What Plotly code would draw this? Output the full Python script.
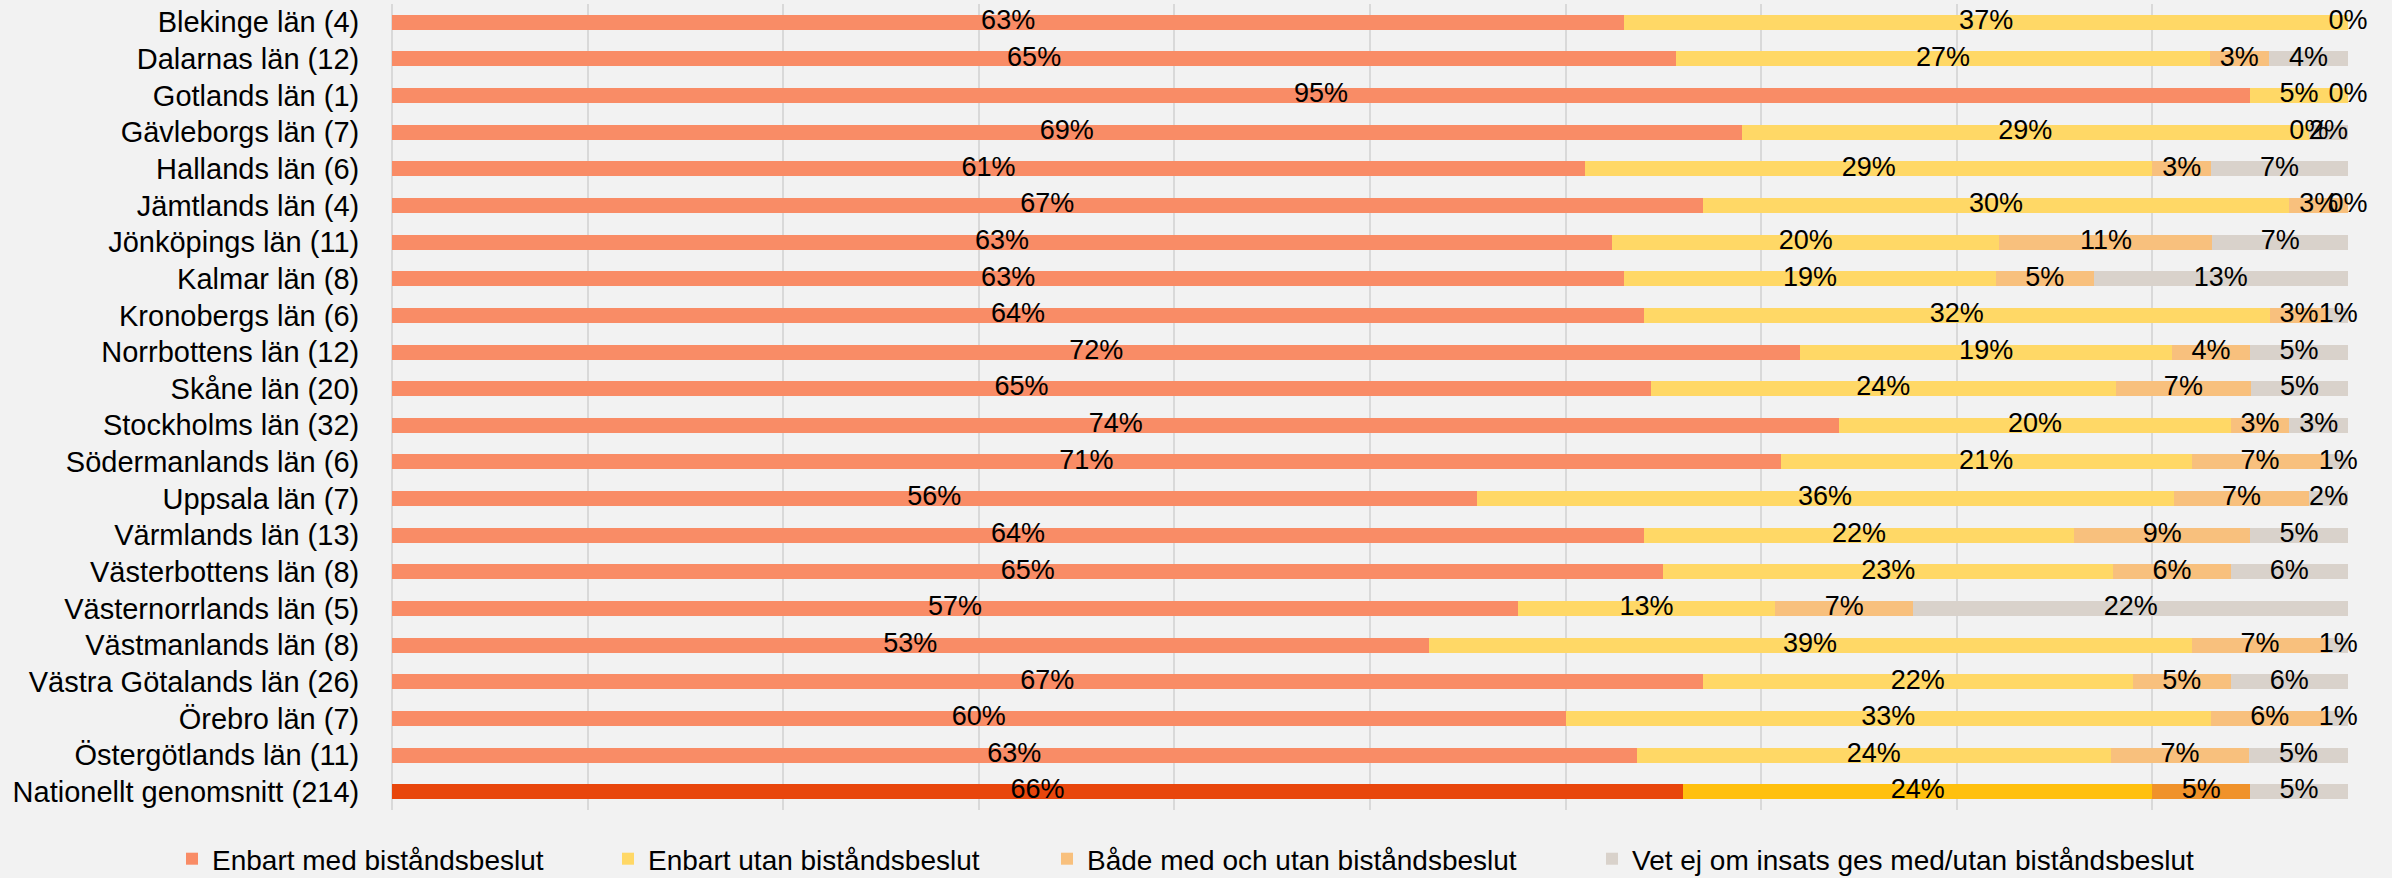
import plotly.graph_objects as go
import numpy as np

# Data (percent of municipalities per county)
regions = [
    "Blekinge län (4)", "Dalarnas län (12)", "Gotlands län (1)", "Gävleborgs län (7)",
    "Hallands län (6)", "Jämtlands län (4)", "Jönköpings län (11)", "Kalmar län (8)",
    "Kronobergs län (6)", "Norrbottens län (12)", "Skåne län (20)", "Stockholms län (32)",
    "Södermanlands län (6)", "Uppsala län (7)", "Värmlands län (13)", "Västerbottens län (8)",
    "Västernorrlands län (5)", "Västmanlands län (8)", "Västra Götalands län (26)",
    "Örebro län (7)", "Östergötlands län (11)", "Nationellt genomsnitt (214)",
]
med_beslut = [63, 65, 95, 69, 61, 67, 63, 63, 64, 72, 65, 74, 71, 56, 64, 65, 57, 53, 67, 60, 63, 66]
utan_beslut = [37, 27, 5, 29, 29, 30, 20, 19, 32, 19, 24, 20, 21, 36, 22, 23, 13, 39, 22, 33, 24, 24]
bade = [None, 3, None, 0, 3, 3, 11, 5, 3, 4, 7, 3, 7, 7, 9, 6, 7, 7, 5, 6, 7, 5]
vet_ej = [0, 4, 0, 2, 7, 0, 7, 13, 1, 5, 5, 3, 1, 2, 5, 6, 22, 1, 6, 1, 5, 5]

series_names = [
    "Enbart med biståndsbeslut",
    "Enbart utan biståndsbeslut",
    "Både med och utan biståndsbeslut",
    "Vet ej om insats ges med/utan biståndsbeslut",
]
series_values = [med_beslut, utan_beslut, bade, vet_ej]
colors = ["#F98C66", "#FFD866", "#F8C07D", "#D9D2CB"]
national_colors = ["#E8460C", "#FFC00E", "#F0922A", "#D9D2CB"]

font_family = "Liberation Sans, Arial, sans-serif"
legend_ids = ["legend", "legend2", "legend3", "legend4"]
legend_x = [172, 608, 1047, 1592]  # left edge of each legend entry, px

fig = go.Figure()
n = len(regions)
for name, vals, col, ncol, lid in zip(series_names, series_values, colors, national_colors, legend_ids):
    fig.add_trace(go.Bar(
        y=regions,
        x=[v if v is not None else 0 for v in vals],
        name=name,
        orientation="h",
        width=0.41,
        marker=dict(color=[col] * (n - 1) + [ncol], line=dict(width=0)),
        hoverinfo="skip",
        legend=lid,
    ))

# data labels centred on each segment (normalised like barnorm)
arr = np.array([[v if v is not None else 0 for v in vals] for vals in series_values], dtype=float)
norm = arr / arr.sum(axis=0) * 100
cum = np.cumsum(norm, axis=0)
lx, ly, lt = [], [], []
for s, vals in enumerate(series_values):
    for i, v in enumerate(vals):
        if v is None:
            continue
        lx.append(cum[s, i] - norm[s, i] / 2)
        ly.append(regions[i])
        lt.append(f"{v}%")
fig.add_trace(go.Scatter(
    x=lx, y=ly, text=lt, mode="text",
    textfont=dict(family=font_family, size=27, color="#000000"),
    textposition="middle center",
    showlegend=False, hoverinfo="skip", cliponaxis=False,
))

W, H = 2392, 878
fig.update_layout(
    width=W, height=H,
    barmode="stack", barnorm="percent",
    paper_bgcolor="#F2F2F2", plot_bgcolor="#F2F2F2",
    font=dict(family=font_family, size=28, color="#000000"),
    margin=dict(l=392, r=44, t=4, b=68),
    xaxis=dict(
        range=[0, 100], dtick=10, showticklabels=False,
        showgrid=True, gridcolor="#D9D9D9", gridwidth=2,
        zeroline=True, zerolinecolor="#D9D9D9", zerolinewidth=2,
        fixedrange=True,
    ),
    yaxis=dict(
        range=[n - 0.5, -0.5], showgrid=False,
        ticks="outside", ticklen=26, tickcolor="rgba(0,0,0,0)",
        tickfont=dict(size=29),
    ),
    showlegend=True,
)
for lid, lx0 in zip(legend_ids, legend_x):
    fig.update_layout({lid: dict(
        orientation="h", xref="container", yref="container",
        x=lx0 / W, xanchor="left", y=(H - 859) / H, yanchor="middle",
        font=dict(size=28), bgcolor="rgba(0,0,0,0)",
    )})

# remove the browser's default page margin so the figure fills the window
fig.write_html(
    "out.html",
    config={"displayModeBar": False},
    post_script="document.body.style.margin='0px';",
)
